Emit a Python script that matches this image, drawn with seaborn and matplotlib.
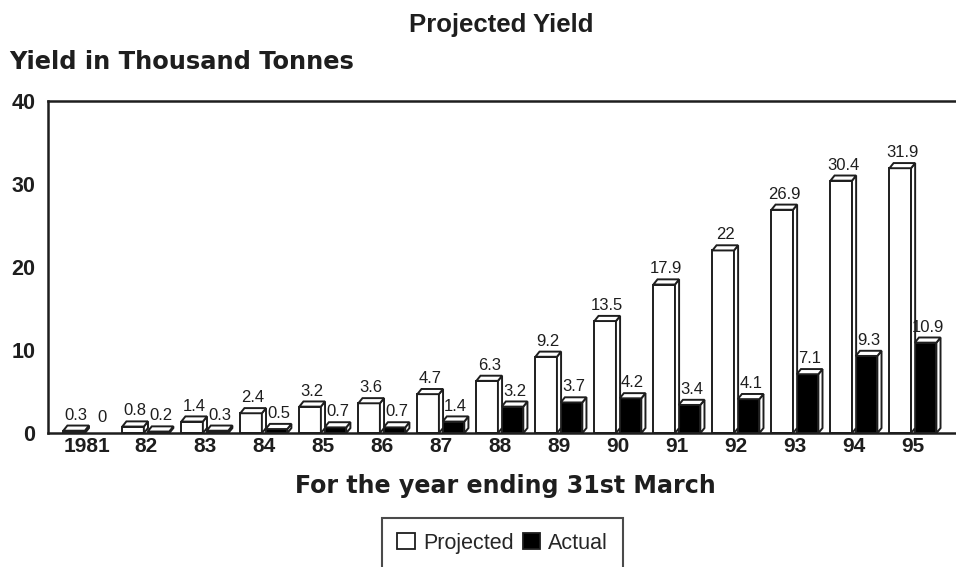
import matplotlib
matplotlib.use("Agg")
import matplotlib.pyplot as plt
from matplotlib.patches import Polygon, Patch
import seaborn as sns
import pandas as pd

years = ["1981", "82", "83", "84", "85", "86", "87", "88", "89", "90",
         "91", "92", "93", "94", "95"]
projected = [0.3, 0.8, 1.4, 2.4, 3.2, 3.6, 4.7, 6.3, 9.2, 13.5, 17.9, 22, 26.9, 30.4, 31.9]
actual = [0, 0.2, 0.3, 0.5, 0.7, 0.7, 1.4, 3.2, 3.7, 4.2, 3.4, 4.1, 7.1, 9.3, 10.9]
series = ["Projected", "Actual"]
y_ticks = [0, 10, 20, 30, 40]

df = pd.DataFrame({
    "year": years * 2,
    "value": projected + actual,
    "series": [series[0]] * len(years) + [series[1]] * len(years),
})

sns.set_theme(style="white")
plt.rcParams["font.family"] = ["Liberation Sans", "DejaVu Sans"]
INK = "#1e1e1e"

fig = plt.figure(figsize=(9.56, 5.67), dpi=100)
ax = fig.add_axes([0.05, 0.236, 0.95, 0.586])

sns.barplot(data=df, x="year", y="value", hue="series", order=years,
            hue_order=series, palette={"Projected": "white", "Actual": "black"},
            width=0.86, gap=0.15, edgecolor=INK, linewidth=1.4,
            legend=False, ax=ax)

# pseudo-3D depth for every bar: a top face and a right-hand side face
dx, dy = 0.07, 0.62
for p in list(ax.patches):
    x0, w, h = p.get_x(), p.get_width(), p.get_height()
    if not h > 0:
        p.set_visible(False)
        continue
    side = Polygon([(x0 + w, 0), (x0 + w + dx, dy), (x0 + w + dx, h + dy), (x0 + w, h)],
                   closed=True, facecolor="white",
                   edgecolor=INK, lw=1.4, zorder=3)
    top = Polygon([(x0, h), (x0 + dx, h + dy), (x0 + w + dx, h + dy), (x0 + w, h)],
                  closed=True, facecolor="white", edgecolor=INK, lw=1.4, zorder=3)
    ax.add_patch(side)
    ax.add_patch(top)

# value labels above each bar
for cont, vals in zip(ax.containers, [projected, actual]):
    for p, v in zip(cont.patches, vals):
        ax.text(p.get_x() + (p.get_width() + dx) / 2, v + dy + 0.35, f"{v:g}",
                ha="center", va="bottom", fontsize=12, color=INK, zorder=4)

ax.set_xlim(-0.66, 14.73)
ax.set_ylim(0, 40)
ax.set_yticks(y_ticks)
ax.set_yticklabels([str(t) for t in y_ticks])
ax.tick_params(axis="x", length=0, labelsize=15, pad=3, labelcolor=INK)
ax.tick_params(axis="y", length=0, labelsize=15.5, pad=9, labelcolor=INK)
for lbl in ax.get_xticklabels() + ax.get_yticklabels():
    lbl.set_fontweight("bold")
ax.set_xlabel("")
ax.set_ylabel("")
for side_name in ["left", "top", "bottom"]:
    ax.spines[side_name].set_color(INK)
    ax.spines[side_name].set_linewidth(1.8)
ax.spines["right"].set_visible(False)

fig.text(0.524, 0.956, "Projected Yield", ha="center", va="center",
         fontsize=18.5, fontweight="bold", color=INK)
fig.text(0.010, 0.891, "Yield in Thousand Tonnes", ha="left", va="center",
         fontsize=17.4, fontweight="bold", color=INK, family="DejaVu Sans")
fig.text(0.529, 0.143, "For the year ending 31st March", ha="center", va="center",
         fontsize=17.1, fontweight="bold", color=INK, family="DejaVu Sans")

handles = [Patch(facecolor="white", edgecolor=INK, lw=1.3, label="Projected"),
           Patch(facecolor="black", edgecolor=INK, lw=1.3, label="Actual")]
leg = fig.legend(handles=handles, loc="upper center", bbox_to_anchor=(0.526, 0.087),
                 ncol=2, frameon=True, fancybox=False, fontsize=15.5,
                 handlelength=0.8, handleheight=0.8, handletextpad=0.4,
                 columnspacing=0.4, borderpad=0.7, borderaxespad=0)
leg.get_frame().set_edgecolor(INK)
leg.get_frame().set_linewidth(1.5)

fig.savefig("out.png", dpi=100)
